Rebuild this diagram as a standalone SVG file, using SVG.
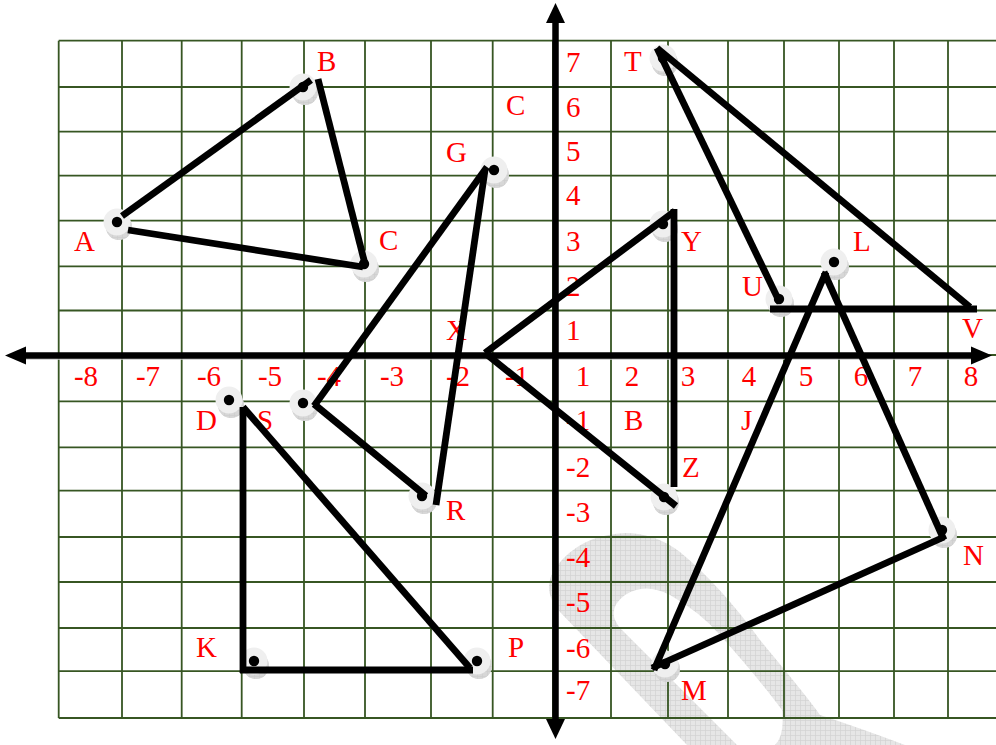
<svg xmlns="http://www.w3.org/2000/svg" width="996" height="745" viewBox="0 0 996 745">
<style>
.g{stroke:#375623;stroke-width:1.8;fill:none}
.ax{stroke:#000;stroke-width:6.5;fill:none}
.ln{stroke:#000;stroke-width:6.8;fill:none;stroke-linecap:butt}
.t{font-family:"Liberation Serif","Times New Roman",serif;font-size:29px;fill:#ff0000}
</style>
<defs>
<pattern id="hatch" width="5" height="5" patternUnits="userSpaceOnUse">
<rect width="5" height="5" fill="#e6e6e6"/>
<path d="M0 0.5H5M0.5 0V5" stroke="#d2d2d2" stroke-width="0.7"/>
</pattern>
<g id="pt">
<circle cx="2" cy="5" r="13" fill="#c8c8c8"/>
<circle cx="2" cy="5" r="13" fill="url(#hatch)" opacity="0.5"/>
<circle cx="0" cy="0" r="13.5" fill="#efefef"/>
<circle cx="0" cy="0" r="5.2" fill="#000"/>
</g>
</defs>
<rect width="996" height="745" fill="#fff"/>
<g id="watermark">
<path fill="url(#hatch)" fill-rule="evenodd" d="M687 745 L560 612 Q540 590 556 567 Q580 535 625 533 Q655 533 680 552 Q720 585 760 640 Q810 700 820 715 Q860 728 905 745 Z M737 745 L620 628 Q605 610 625 595 Q645 582 670 595 Q700 612 720 635 Q760 680 782 710 Q785 735 775 745 Z"/>
</g>
<g id="grid" class="g">
<path d="M58.7 40.7V718M122 40.7V718M181.7 40.7V718M241.7 40.7V718M304 40.7V718M365 40.7V718M431 40.7V718M492.7 40.7V718M553 40.7V718M611 40.7V718M668 40.7V718M728 40.7V718M784 40.7V718M839 40.7V718M894 40.7V718M948 40.7V718"/>
<path d="M58.7 40.7H996M58.7 87H996M58.7 131.7H996M58.7 175.7H996M58.7 220.7H996M58.7 266.3H996M58.7 310.5H996M58.7 355H996M58.7 401.3H996M58.7 447.3H996M58.7 490.7H996M58.7 537H996M58.7 582H996M58.7 628H996M58.7 671.2H996M58.7 718H996"/>
</g>
<g id="axes">
<line x1="22" y1="359" x2="975" y2="359" stroke="#c8c8c8" stroke-width="1.5"/>
<line class="ax" x1="22" y1="355.5" x2="976" y2="355.5"/>
<polygon points="5,355.5 26,346.5 26,364.5"/>
<polygon points="992,355.5 971,346.5 971,364.5"/>
<line class="ax" x1="555.5" y1="20" x2="555.5" y2="722"/>
<polygon points="555.5,3 546,23 565,23"/>
<polygon points="555.5,739 546,719 565,719"/>
</g>
<g id="axis-labels" class="t">
<text x="86" y="386" text-anchor="middle">-8</text>
<text x="148" y="386" text-anchor="middle">-7</text>
<text x="209" y="386" text-anchor="middle">-6</text>
<text x="270" y="386" text-anchor="middle">-5</text>
<text x="329" y="386" text-anchor="middle">-4</text>
<text x="392" y="386" text-anchor="middle">-3</text>
<text x="458" y="386" text-anchor="middle">-2</text>
<text x="517" y="386" text-anchor="middle">-1</text>
<text x="583" y="386" text-anchor="middle">1</text>
<text x="632" y="386" text-anchor="middle">2</text>
<text x="688" y="386" text-anchor="middle">3</text>
<text x="749" y="386" text-anchor="middle">4</text>
<text x="806" y="386" text-anchor="middle">5</text>
<text x="861" y="386" text-anchor="middle">6</text>
<text x="915" y="386" text-anchor="middle">7</text>
<text x="971" y="386" text-anchor="middle">8</text>
<text x="566" y="72">7</text>
<text x="566" y="117">6</text>
<text x="566" y="161">5</text>
<text x="566" y="205">4</text>
<text x="566" y="251">3</text>
<text x="566" y="296">2</text>
<text x="566" y="340">1</text>
<text x="566" y="430">-1</text>
<text x="566" y="477">-2</text>
<text x="566" y="522">-3</text>
<text x="566" y="567">-4</text>
<text x="566" y="612">-5</text>
<text x="566" y="658">-6</text>
<text x="566" y="700">-7</text>
</g>
<g id="node-A"><use href="#pt" x="117" y="222"/><text class="t" x="74" y="251">A</text></g>
<g id="node-B"><use href="#pt" x="303" y="87"/><text class="t" x="317" y="71">B</text></g>
<g id="node-C"><use href="#pt" x="364" y="264"/><text class="t" x="379" y="250">C</text></g>
<g id="node-C2"><text class="t" x="506" y="115">C</text></g>
<g id="node-G"><use href="#pt" x="494" y="170"/><text class="t" x="446" y="162">G</text></g>
<g id="node-T"><use href="#pt" x="663" y="58"/><text class="t" x="624" y="71">T</text></g>
<g id="node-Y"><use href="#pt" x="663" y="224"/><text class="t" x="681" y="251">Y</text></g>
<g id="node-L"><use href="#pt" x="834" y="262"/><text class="t" x="853" y="251">L</text></g>
<g id="node-U"><use href="#pt" x="779" y="299"/><text class="t" x="742" y="296">U</text></g>
<g id="node-X"><text class="t" x="446" y="340">X</text></g>
<g id="node-V"><text class="t" x="962" y="338">V</text></g>
<g id="node-D"><use href="#pt" x="229" y="400"/><text class="t" x="196" y="430">D</text></g>
<g id="node-S"><use href="#pt" x="303" y="403"/><text class="t" x="257" y="430">S</text></g>
<g id="node-B2"><text class="t" x="624" y="430">B</text></g>
<g id="node-J"><text class="t" x="741" y="430">J</text></g>
<g id="node-Z"><use href="#pt" x="664" y="497"/><text class="t" x="682" y="477">Z</text></g>
<g id="node-R"><use href="#pt" x="422" y="496"/><text class="t" x="446" y="520">R</text></g>
<g id="node-N"><use href="#pt" x="942" y="530"/><text class="t" x="963" y="565">N</text></g>
<g id="node-K"><use href="#pt" x="254" y="661"/><text class="t" x="196" y="657">K</text></g>
<g id="node-P"><use href="#pt" x="477" y="661"/><text class="t" x="508" y="657">P</text></g>
<g id="node-M"><use href="#pt" x="665" y="664"/><text class="t" x="681" y="700">M</text></g>
<g id="connectors" class="ln">
<line x1="122" y1="216" x2="311" y2="80"/>
<line x1="318" y1="79" x2="365" y2="264"/>
<line x1="128" y1="230" x2="363" y2="267"/>
<line x1="487" y1="167" x2="314" y2="406"/>
<line x1="314" y1="404" x2="426" y2="496"/>
<line x1="485" y1="170" x2="436" y2="505"/>
<line x1="485" y1="353" x2="675" y2="211"/>
<line x1="674" y1="209" x2="674" y2="487"/>
<line x1="485" y1="353" x2="676" y2="506"/>
<line x1="657" y1="48" x2="780" y2="303"/>
<line x1="657" y1="48" x2="970" y2="307"/>
<line x1="770" y1="309" x2="977" y2="309"/>
<line x1="826" y1="272" x2="654" y2="670"/>
<line x1="824" y1="272" x2="944" y2="540"/>
<line x1="652" y1="668" x2="944" y2="537"/>
<line x1="243" y1="407" x2="243" y2="673"/>
<line x1="240" y1="670" x2="473" y2="670"/>
<line x1="243" y1="407" x2="470" y2="668"/>
</g>
</svg>
